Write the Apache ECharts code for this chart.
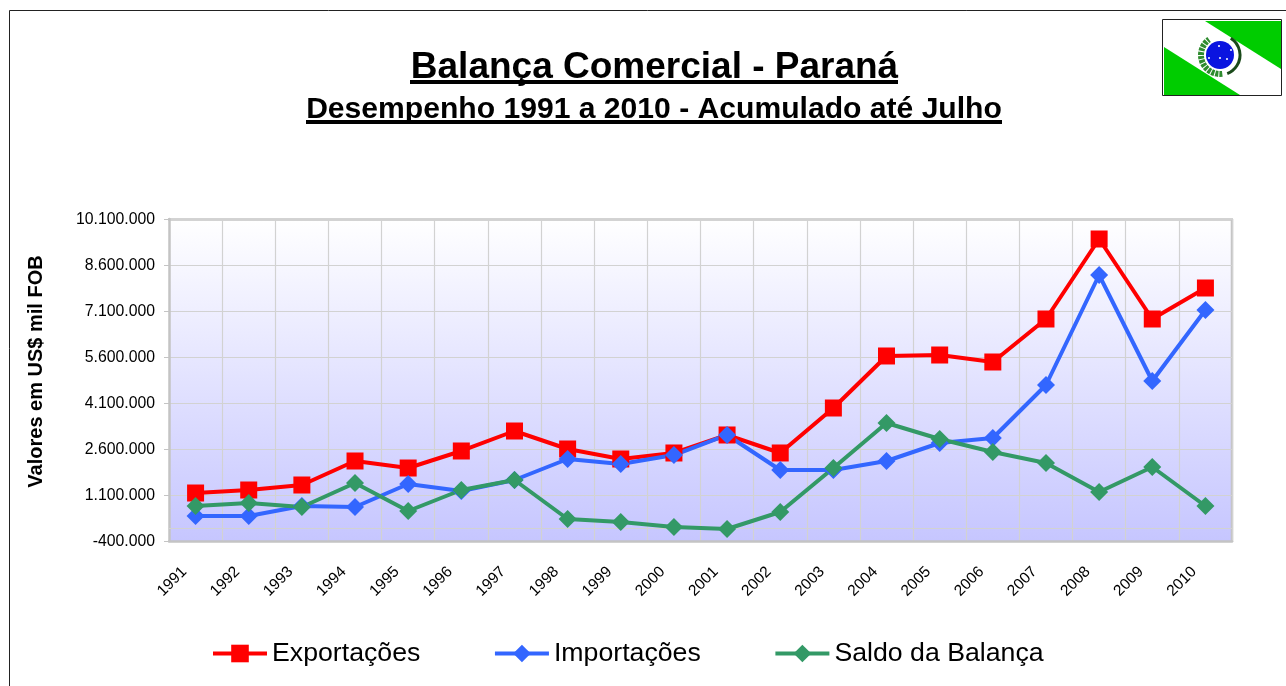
<!DOCTYPE html>
<html>
<head>
<meta charset="utf-8">
<title>Balança Comercial - Paraná</title>
<script src="https://cdn.jsdelivr.net/npm/echarts@6/dist/echarts.min.js"></script>
<style>
    html, body { margin: 0; padding: 0; background: #fff; overflow: hidden; }
    #chart { width: 1286px; height: 686px; }
</style>
</head>
<body>
<div id="chart"></div>
<script>
// dados
const anos = ['1991','1992','1993','1994','1995','1996','1997','1998','1999','2000','2001','2002','2003','2004','2005','2006','2007','2008','2009','2010'];
const exportacoes = [1165000,1263000,1426000,2209000,1980000,2535000,3187000,2600000,2274000,2470000,3057000,2470000,3937000,5633000,5665000,5437000,6839000,9448000,6839000,7850000];
const importacoes = [415000,415000,741000,709000,1459000,1230000,1589000,2274000,2111000,2404000,3057000,1915000,1915000,2209000,2796000,2959000,4687000,8274000,4817000,7133000];
const saldo = [741000,839000,709000,1491000,578000,1263000,1589000,317000,220000,57000,-9000,546000,1980000,3448000,2926000,2502000,2143000,1198000,2013000,741000];
const yTicks = [-400000,1100000,2600000,4100000,5600000,7100000,8600000,10100000];

const FONT = '"Liberation Sans", Arial, sans-serif';
const GRID_COLOR = '#d2d2d2';
const BORDER_COLOR = '#c4c4c4';

function formatBR(v) {
    const s = Math.abs(v).toString().replace(/\B(?=(\d{3})+(?!\d))/g, '.');
    return (v < 0 ? '-' : '') + s;
}

function lineSeries(name, data, color, symbol, size) {
    return {
        name: name,
        type: 'line',
        data: data,
        symbol: symbol,
        symbolSize: size,
        animation: false,
        lineStyle: { color: color, width: 4 },
        itemStyle: { color: color }
    };
}

// bandeira do Parana, desenhada a mao
function flagGraphic() {
    const stars = [[1219,46],[1231,50],[1209,58],[1220,58],[1227,59]];
    const items = [
        { type: 'rect', shape: { x: 1162.5, y: 19.5, width: 119, height: 76 }, style: { fill: '#fff', stroke: '#222', lineWidth: 1 } },
        { type: 'polygon', shape: { points: [[1205,21],[1281,21],[1281,69]] }, style: { fill: '#00cc00' } },
        { type: 'polygon', shape: { points: [[1164,47],[1164,95],[1240,95]] }, style: { fill: '#00cc00' } },
        { type: 'arc', shape: { cx: 1220, cy: 55, r: 19, startAngle: 1.45, endAngle: 4.1 }, style: { stroke: '#2e8b2e', lineWidth: 6, lineDash: [3, 1], fill: null } },
        { type: 'arc', shape: { cx: 1220, cy: 55, r: 20, startAngle: -1.0, endAngle: 1.2 }, style: { stroke: '#1a4a1a', lineWidth: 3, fill: null } },
        { type: 'circle', shape: { cx: 1220, cy: 55, r: 14 }, style: { fill: '#0a14e0' } }
    ];
    stars.forEach(function(p) {
        items.push({ type: 'circle', shape: { cx: p[0], cy: p[1], r: 1 }, style: { fill: '#fff' } });
    });
    return items;
}

const chart = echarts.init(document.getElementById('chart'));

const option = {
    backgroundColor: '#fff',
    textStyle: { fontFamily: FONT },
    title: [
        {
            text: 'Balança Comercial - Paraná',
            left: 649.5, top: 44, textAlign: 'center',
            textStyle: { fontFamily: FONT, fontSize: 37, fontWeight: 'bold', color: '#000' }
        },
        {
            text: 'Desempenho 1991 a 2010 - Acumulado até Julho',
            left: 649, top: 90, textAlign: 'center',
            textStyle: { fontFamily: FONT, fontSize: 30.1, fontWeight: 'bold', color: '#000' }
        }
    ],
    legend: {
        left: 211, top: 640, padding: 0,
        itemWidth: 54, itemHeight: 22, itemGap: 72.6,
        textStyle: { fontFamily: FONT, fontSize: 26.7, color: '#000' },
        lineStyle: { width: 4 },
        data: ['Exportações', 'Importações', 'Saldo da Balança']
    },
    grid: {
        left: 169, right: 54, top: 219, bottom: 145,
        show: true,
        borderWidth: 0,
        backgroundColor: new echarts.graphic.LinearGradient(0, 0, 0, 1, [
            { offset: 0, color: '#ffffff' },
            { offset: 1, color: '#c6c6ff' }
        ])
    },
    xAxis: {
        type: 'category',
        data: anos,
        boundaryGap: true,
        axisLine: { onZero: false, lineStyle: { color: BORDER_COLOR, width: 2.5 } },
        axisTick: { show: false },
        axisLabel: {
            interval: 0, rotate: 45, margin: 17,
            padding: [0, 16, 0, 0],
            fontFamily: FONT, fontSize: 15.5, color: '#000'
        },
        splitLine: { show: true, interval: 0, lineStyle: { color: GRID_COLOR, width: 1.2 } }
    },
    yAxis: {
        type: 'value',
        min: yTicks[0],
        max: yTicks[yTicks.length - 1],
        name: 'Valores em US$ mil FOB',
        nameLocation: 'middle',
        nameGap: 123,
        nameTextStyle: {
            fontFamily: FONT, fontSize: 20, fontWeight: 'bold', color: '#000',
            padding: [0, 0, 0, 17]
        },
        axisLine: { show: true, lineStyle: { color: BORDER_COLOR, width: 2.5 } },
        axisTick: { show: true, length: 5, customValues: yTicks, lineStyle: { color: BORDER_COLOR } },
        axisLabel: {
            customValues: yTicks, margin: 14,
            // padding so vale com verticalAlign top/bottom
            verticalAlign: 'top',
            padding: [-7, 0, 0, 0],
            fontFamily: FONT, fontSize: 15.8, color: '#000',
            formatter: formatBR
        },
        splitLine: { show: true, lineStyle: { color: GRID_COLOR, width: 1.2 } }
    },
    series: [
        Object.assign(lineSeries('Exportações', exportacoes, '#ff0000', 'rect', 17), {
            // eixo horizontal cruza em zero no original
            markLine: {
                silent: true, symbol: 'none', animation: false, z: 1,
                label: { show: false },
                lineStyle: { color: GRID_COLOR, width: 1.2, type: 'solid' },
                data: [{ yAxis: 0 }]
            }
        }),
        lineSeries('Importações', importacoes, '#3366ff', 'diamond', 18),
        lineSeries('Saldo da Balança', saldo, '#339966', 'diamond', 18)
    ],
    graphic: [
        // moldura
        { type: 'line', shape: { x1: 9.5, y1: 10.5, x2: 1286, y2: 10.5 }, style: { stroke: '#222', lineWidth: 1 } },
        { type: 'line', shape: { x1: 9.5, y1: 10.5, x2: 9.5, y2: 686 }, style: { stroke: '#222', lineWidth: 1 } },
        // contorno da area do grafico, topo e direita
        { type: 'line', shape: { x1: 168, y1: 219.5, x2: 1233, y2: 219.5 }, style: { stroke: BORDER_COLOR, lineWidth: 2.5 } },
        { type: 'line', shape: { x1: 1232, y1: 219, x2: 1232, y2: 542 }, style: { stroke: BORDER_COLOR, lineWidth: 2.5 } },
        // sublinhado dos titulos
        { type: 'rect', shape: { x: 410, y: 80, width: 488, height: 4 }, style: { fill: '#000' } },
        { type: 'rect', shape: { x: 306, y: 120, width: 696, height: 4 }, style: { fill: '#000' } }
    ].concat(flagGraphic())
};

chart.setOption(option);
</script>
</body>
</html>
